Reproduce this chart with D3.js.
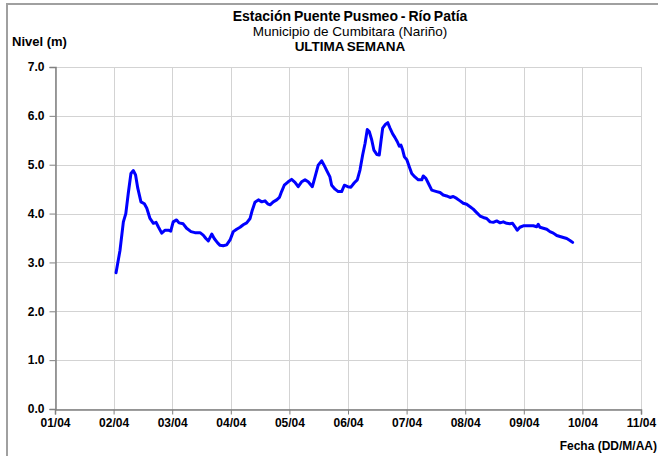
<!DOCTYPE html>
<html>
<head>
<meta charset="utf-8">
<script src="https://cdn.jsdelivr.net/npm/d3@7"></script>
<style>
  html, body { margin: 0; padding: 0; background: #fff; }
  svg { display: block; font-family: "Liberation Sans", Arial, sans-serif; }
</style>
</head>
<body>
<svg id="chart" width="658" height="456"></svg>
<script>
// Hours elapsed since 01/04 00:00 for each reading
const hours = [
  25.0, 26.6, 28.0, 29.0, 30.0, 31.1, 32.1, 33.0, 33.9, 35.2,
  36.6, 37.6, 38.9, 40.3, 41.4, 42.3, 43.7, 45.1, 46.4, 47.4,
  48.4, 49.8, 50.8, 52.5, 53.9, 55.7, 57.3, 59.4, 60.7, 61.8,
  62.8, 64.2, 65.2, 66.6, 67.6, 68.9, 70.3, 71.7, 73.0, 74.4,
  75.8, 77.1, 78.5, 79.9, 80.8, 81.9, 83.3, 84.7, 86.0, 87.1,
  88.1, 89.4, 90.8, 91.9, 92.8, 93.9, 95.5, 96.9, 98.3, 99.6,
  101.0, 102.4, 103.7, 105.4, 106.5, 107.8, 109.2, 110.2, 111.3, 112.6,
  113.3, 114.7, 116.0, 117.4, 118.5, 119.9, 121.2, 122.6, 123.8, 124.9,
  126.0, 127.0, 127.9, 128.7, 129.7, 130.6, 131.8, 132.8, 133.4, 134.2,
  135.4, 136.3, 137.2, 138.3, 139.2, 140.2, 141.0, 141.7, 142.4, 143.1,
  144.1, 145.1, 146.1, 147.4, 148.8, 150.2, 150.8, 151.9, 152.9, 154.3,
  156.3, 157.7, 159.0, 160.4, 161.8, 163.1, 164.5, 165.9, 167.2, 168.6,
  170.0, 171.3, 172.7, 174.1, 175.4, 176.8, 178.2, 179.5, 180.9, 182.3,
  183.6, 185.0, 186.3, 187.4, 188.4, 189.3, 190.4, 191.8, 193.2, 194.5,
  195.9, 197.3, 197.9, 198.6, 200.0, 201.4, 202.7, 204.1, 205.5, 206.8,
  208.2, 209.6, 210.9, 212.0
];

// River level (m)
const levels = [
  2.79, 3.24, 3.83, 4.00, 4.41, 4.82, 4.88, 4.79, 4.52, 4.24,
  4.20, 4.11, 3.90, 3.80, 3.82, 3.73, 3.60, 3.66, 3.66, 3.64,
  3.83, 3.87, 3.81, 3.79, 3.70, 3.63, 3.61, 3.61, 3.56, 3.49,
  3.44, 3.58, 3.49, 3.40, 3.35, 3.34, 3.36, 3.46, 3.63, 3.68,
  3.72, 3.77, 3.81, 3.90, 4.07, 4.23, 4.28, 4.24, 4.26, 4.20,
  4.18, 4.24, 4.28, 4.33, 4.45, 4.58, 4.65, 4.70, 4.64, 4.55,
  4.65, 4.69, 4.65, 4.55, 4.75, 4.99, 5.08, 4.99, 4.88, 4.75,
  4.58, 4.50, 4.45, 4.45, 4.58, 4.55, 4.54, 4.63, 4.69, 4.89,
  5.20, 5.44, 5.72, 5.68, 5.51, 5.30, 5.21, 5.20, 5.44, 5.75,
  5.83, 5.86, 5.75, 5.63, 5.56, 5.47, 5.38, 5.40, 5.30, 5.16,
  5.10, 4.96, 4.82, 4.75, 4.69, 4.69, 4.77, 4.72, 4.62, 4.48,
  4.45, 4.43, 4.38, 4.36, 4.33, 4.35, 4.31, 4.26, 4.21, 4.19,
  4.14, 4.09, 4.02, 3.95, 3.92, 3.90, 3.83, 3.82, 3.85, 3.81,
  3.83, 3.80, 3.79, 3.80, 3.73, 3.66, 3.72, 3.75, 3.75, 3.75,
  3.75, 3.73, 3.78, 3.72, 3.70, 3.68, 3.63, 3.60, 3.55, 3.53,
  3.51, 3.49, 3.45, 3.41
];

// Axis ticks
const xTickLabels = ["01/04", "02/04", "03/04", "04/04", "05/04", "06/04",
                     "07/04", "08/04", "09/04", "10/04", "11/04"];
const yTicks = [0, 1, 2, 3, 4, 5, 6, 7];

const titleLines = ["Estación Puente Pusmeo - Río Patía",
                    "Municipio de Cumbitara (Nariño)",
                    "ULTIMA SEMANA"];
const yTitle = "Nivel (m)";
const xTitle = "Fecha (DD/M/AA)";

const svg = d3.select("#chart");
const W = 658, H = 456;
const plot = { left: 55, right: 641, top: 67, bottom: 409 };

const start = new Date(2024, 3, 1);
const parseLabel = d3.timeParse("%d/%m/%Y");
const tickDates = xTickLabels.map(s => parseLabel(s + "/2024"));
const data = hours.map((h, i) => ({ t: d3.timeMinute.offset(start, Math.round(h * 60)), v: levels[i] }));

const x = d3.scaleTime()
  .domain([tickDates[0], tickDates[tickDates.length - 1]])
  .range([plot.left, plot.right]);
const y = d3.scaleLinear().domain([0, 7]).range([plot.bottom, plot.top]);

// Outer frame (top and left edges)
svg.append("path")
  .attr("d", `M7,${H} L7,4 L${W},4`)
  .attr("fill", "none")
  .attr("stroke", "#a0a0a0")
  .attr("stroke-width", 2);

// Gridlines
const grid = svg.append("g").attr("stroke", "#d3d3d3").attr("stroke-width", 1);
grid.selectAll("line.gy").data(yTicks).join("line")
  .attr("x1", plot.left).attr("x2", plot.right)
  .attr("y1", d => Math.round(y(d)) + 0.5).attr("y2", d => Math.round(y(d)) + 0.5);
grid.selectAll("line.gx").data(tickDates).join("line")
  .attr("x1", d => Math.round(x(d)) + 0.5).attr("x2", d => Math.round(x(d)) + 0.5)
  .attr("y1", plot.top).attr("y2", plot.bottom);

// Axes
const yAxis = d3.axisLeft(y).tickValues(yTicks).tickFormat(d3.format(".1f")).tickSize(6).tickPadding(5);
const xAxis = d3.axisBottom(x).tickValues(tickDates).tickFormat((d, i) => xTickLabels[i]).tickSize(5).tickPadding(4);

const gy = svg.append("g").attr("transform", `translate(${plot.left + 0.5},0)`).call(yAxis);
const gx = svg.append("g").attr("transform", `translate(0,${plot.bottom + 0.5})`).call(xAxis);

[gy, gx].forEach(g => {
  g.select(".domain").attr("stroke", "#808080").attr("stroke-width", 1.5);
  g.selectAll(".tick line").attr("stroke", "#808080");
  g.selectAll(".tick text")
    .attr("fill", "#000")
    .style("font-family", "'Liberation Sans', Arial, sans-serif")
    .style("font-size", "12px")
    .style("font-weight", "bold");
});

// Level series
const line = d3.line().x(d => x(d.t)).y(d => y(d.v)).curve(d3.curveLinear);
svg.append("path")
  .datum(data)
  .attr("d", line)
  .attr("fill", "none")
  .attr("stroke", "#0000ff")
  .attr("stroke-width", 3)
  .attr("stroke-linejoin", "round")
  .attr("stroke-linecap", "round");

// Titles
const cx = (plot.left + plot.right) / 2 + 2;
svg.append("text").attr("x", cx).attr("y", 21).attr("text-anchor", "middle")
  .style("font-size", "14px").style("font-weight", "bold").style("word-spacing", "-1px")
  .text(titleLines[0]);
svg.append("text").attr("x", cx).attr("y", 36).attr("text-anchor", "middle")
  .style("font-size", "13.5px").text(titleLines[1]);
svg.append("text").attr("x", cx).attr("y", 51).attr("text-anchor", "middle")
  .style("font-size", "13.5px").style("font-weight", "bold").style("word-spacing", "-1px")
  .text(titleLines[2]);

svg.append("text").attr("x", 12).attr("y", 46)
  .style("font-size", "13px").style("font-weight", "bold").text(yTitle);
svg.append("text").attr("x", 657).attr("y", 450).attr("text-anchor", "end")
  .style("font-size", "12px").style("font-weight", "bold").text(xTitle);
</script>
</body>
</html>
